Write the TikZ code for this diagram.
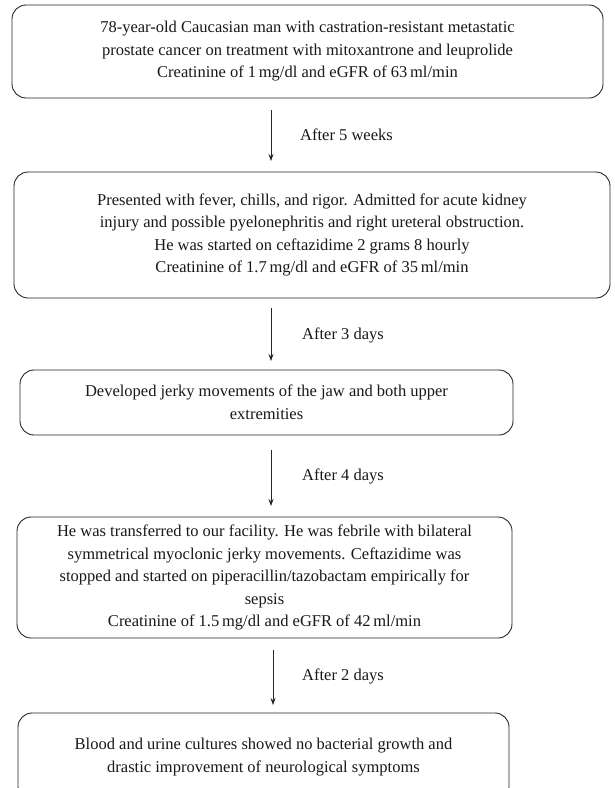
\documentclass[tikz,border=0pt]{standalone}
\usepackage{fontspec}
\setmainfont{Liberation Serif}
\usetikzlibrary{arrows.meta}
\begin{document}
\begin{tikzpicture}[x=1pt,y=-1pt,
  box/.style={draw=black!85, line width=0.9pt, rounded corners=14pt, align=center,
    font=\fontsize{16.5}{22.5}\selectfont, inner sep=0pt, text=black!90},
  arr/.style={draw=black!85, line width=0.8pt, -{Stealth[length=7pt,width=5pt]}},
  lbl/.style={anchor=west, font=\fontsize{16.5}{20}\selectfont, inner sep=0pt, text=black!90}]
\useasboundingbox (0,0) rectangle (614,788);
\fill[white] (0,0) rectangle (614,788);

\node[box, minimum width=591pt, minimum height=93pt] (b1) at (307.5,51.5)
  {78-year-old Caucasian man with castration-resistant metastatic\\
   prostate cancer on treatment with mitoxantrone and leuprolide\\
   Creatinine of 1\,mg/dl and eGFR of 63\,ml/min};

\node[box, minimum width=596pt, minimum height=126pt] (b2) at (312,235)
  {Presented with fever, chills, and rigor. Admitted for acute kidney\\
   injury and possible pyelonephritis and right ureteral obstruction.\\
   He was started on ceftazidime 2 grams 8 hourly\\
   Creatinine of 1.7\,mg/dl and eGFR of 35\,ml/min};

\node[box, minimum width=493pt, minimum height=65pt] (b3) at (266.5,402.5)
  {Developed jerky movements of the jaw and both upper\\
   extremities};

\node[box, minimum width=495pt, minimum height=121pt] (b4) at (264.5,577.5)
  {He was transferred to our facility. He was febrile with bilateral\\
   symmetrical myoclonic jerky movements. Ceftazidime was\\
   stopped and started on piperacillin/tazobactam empirically for\\
   sepsis\\
   Creatinine of 1.5\,mg/dl and eGFR of 42\,ml/min};

\node[box, minimum width=491pt, minimum height=88pt] (b5) at (263.5,757)
  {Blood and urine cultures showed no bacterial growth and\\
   drastic improvement of neurological symptoms};

\coordinate (a1s) at (271,110); \coordinate (a1e) at (271,161);
\coordinate (a2s) at (271,308); \coordinate (a2e) at (271,361);
\coordinate (a3s) at (271,450); \coordinate (a3e) at (271,506);
\coordinate (a4s) at (273,650); \coordinate (a4e) at (273,705);

\draw[arr] (a1s) -- (a1e);
\draw[arr] (a2s) -- (a2e);
\draw[arr] (a3s) -- (a3e);
\draw[arr] (a4s) -- (a4e);

\node[lbl] (l1) at (300,135) {After 5 weeks};
\node[lbl] (l2) at (302,335) {After 3 days};
\node[lbl] (l3) at (302,476) {After 4 days};
\node[lbl] (l4) at (302,676) {After 2 days};
\end{tikzpicture}
\end{document}
